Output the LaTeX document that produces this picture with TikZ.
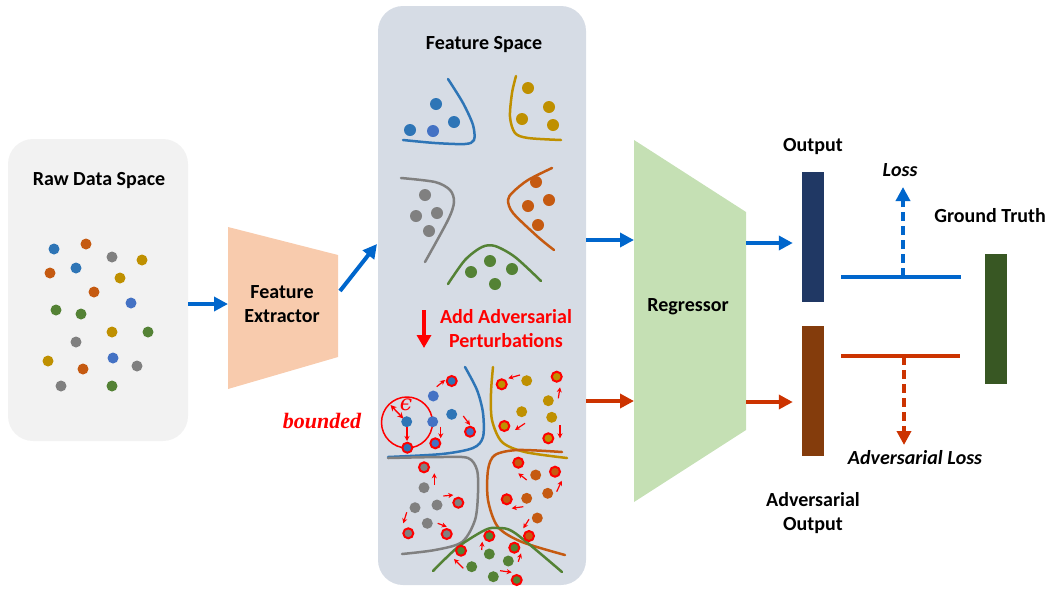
\documentclass[tikz,border=0pt]{standalone}
\usepackage{fontspec}
\setmainfont{Carlito}
\newfontfamily\timesfont{Liberation Serif}
\newfontfamily\epsfont{DejaVu Serif}
\usetikzlibrary{arrows.meta}
\definecolor{rawbg}{HTML}{F2F2F2}
\definecolor{fsbg}{HTML}{D6DCE5}
\definecolor{febg}{HTML}{F8CBAD}
\definecolor{regbg}{HTML}{C5E0B4}
\definecolor{arrblue}{HTML}{0066CC}
\definecolor{arrred}{HTML}{CC3300}
\definecolor{cblue}{HTML}{2E75B6}
\definecolor{cbluel}{HTML}{4472C4}
\definecolor{corange}{HTML}{C55A11}
\definecolor{cgray}{HTML}{808080}
\definecolor{cyellow}{HTML}{BF9000}
\definecolor{cgreen}{HTML}{548235}
\definecolor{outblue}{HTML}{203864}
\definecolor{outbrown}{HTML}{843C0C}
\definecolor{gtgreen}{HTML}{385723}
\begin{document}
\begin{tikzpicture}[x=1pt, y=-1pt,
    every node/.style={font=\bfseries\fontsize{20}{24}\selectfont, align=center, inner sep=0pt},
    bar/.style={minimum width=22pt, minimum height=130pt},
    barrow/.style={arrblue, line width=4pt, -{Triangle[length=14pt,width=14pt]}},
    rarrow/.style={arrred, line width=4pt, -{Triangle[length=14pt,width=14pt]}},
    parrow/.style={red, line width=1.2pt, -{Stealth[length=5pt,width=5pt]}},
    curve/.style={line width=2.5pt, line cap=round}]
    \useasboundingbox (0,0) rectangle (1056,590);
    % Panels
    \node[fill=rawbg, rounded corners=25pt, minimum width=180pt, minimum height=302pt] (raw) at (98,290) {};
    \node[fill=fsbg, rounded corners=25pt, minimum width=208pt, minimum height=579pt] (fs) at (482,295.5) {};
    \node (rawlbl) at (99,181) {Raw Data Space};
    \node (fslbl) at (484,45) {Feature Space};
    % Raw data
    \foreach \c/\x/\y in {cblue/54/249, corange/86/244, cgray/112/257, cyellow/142/260,
        corange/50/273, cblue/76/268, cyellow/120/278, corange/94/292, cbluel/131/303,
        cgreen/56/310, cgreen/81/314, cyellow/112/332, cgreen/148/332, cgray/76/342,
        cyellow/48/361, cbluel/113/358, corange/83/369, cgray/137/366, cgray/61/386, cgreen/112/386}
        \fill[\c] (\x,\y) circle (5.5);
    % Extractor
    \fill[febg] (228,227) -- (338,255) -- (338,357) -- (228,389) -- cycle;
    \node (fe) at (282,304) {Feature\\Extractor};
    \coordinate (fe-in) at (228,304);
    \coordinate (fe-out) at (340,291);
    \coordinate (fs-in) at (377,244);
    \draw[barrow] (raw.east |- fe-in) -- (fe-in);
    \draw[barrow] (fe-out) -- (fs-in);
    % Clean clusters
    \draw[curve, cblue] plot[smooth] coordinates {(448,79) (463,103) (473,125) (474,140) (465,144) (435,143) (403,140)};
    \draw[curve, cyellow] plot[smooth] coordinates {(516,76) (512,93) (510,117) (515,133) (528,138) (561,140)};
    \draw[curve, cgray] plot[smooth] coordinates {(401,178) (435,182) (450,190) (454,202) (448,220) (425,262)};
    \draw[curve, corange] plot[smooth] coordinates {(552,168) (528,180) (513,192) (508,200) (513,213) (538,237) (554,250)};
    \draw[curve, cgreen] plot[smooth] coordinates {(448,284) (465,260) (482,247) (495,246) (515,257) (541,281)};
    \foreach \c/\x/\y in {cblue/436/104, cblue/410/130, cbluel/433/131, cblue/454/122,
        cyellow/528/88, cyellow/549/107, cyellow/522/119, cyellow/553/125,
        cgray/425/195, cgray/416/216, cgray/437/213, cgray/429/231,
        corange/536/182, corange/549/200, corange/528/206, corange/538/225,
        cgreen/490/261, cgreen/471/272, cgreen/512/269, cgreen/495/284}
        \fill[\c] (\x,\y) circle (6);
    % Perturbation
    \coordinate (pt-a) at (424,310);
    \coordinate (pt-b) at (424,348);
    \draw[red, line width=4pt, -{Triangle[length=13pt,width=14pt]}] (pt-a) -- (pt-b);
    \node[red] (addlbl) at (506,329) {Add Adversarial\\Perturbations};
    \node[red, font=\timesfont\bfseries\itshape\fontsize{22}{24}\selectfont] (bnd) at (322,421) {bounded};
    % Perturbed clusters
    \draw[curve, cblue] plot[smooth] coordinates {(465,367) (477,390) (483,413) (483,437) (473,448) (442,454) (388,457)};
    \draw[curve, cyellow] plot[smooth] coordinates {(493,367) (491,393) (492,420) (502,442) (525,452) (567,458)};
    \draw[curve, cgray] plot[smooth] coordinates {(388,458) (442,457) (468,458) (477,470) (478,493) (475,520) (462,542) (435,550) (402,554)};
    \draw[curve, corange] plot[smooth] coordinates {(562,452) (518,450) (495,455) (488,470) (488,500) (498,527) (522,542) (565,555)};
    \draw[curve, cgreen] plot[smooth] coordinates {(433,571) (458,547) (485,530) (498,528) (515,533) (562,572)};
    \draw[red, line width=1.5pt] (407,422.5) circle (25.5);
    \node[red, font=\epsfont\itshape\fontsize{22}{22}\selectfont] (eps) at (406,405) {ϵ};
    \foreach \c/\x/\y in {cblue/406.7/421.7, cbluel/433.3/396, cbluel/432.7/421.7, cblue/451.7/414.3,
        cyellow/526.7/380.7, cyellow/548.3/400.7, cyellow/521.7/411.7, cyellow/551.7/417.3,
        corange/535.7/475, corange/547.7/493.3, corange/526.7/498.3, corange/537.3/518,
        cgray/424/487.7, cgray/415/507.7, cgray/437/505, cgray/427.3/523.3,
        cgreen/489.3/554, cgreen/508.3/561, cgreen/471.7/566.7, cgreen/493.3/576.7}
        \fill[\c] (\x,\y) circle (5.5);
    \foreach \c/\x/\y in {cblue/407.3/447.7, cblue/451.7/381, cbluel/435.3/443.3, cbluel/470/431.7,
        cyellow/501.7/384.3, cyellow/556.7/376.7, cyellow/504.3/426, cyellow/548.3/438.3,
        corange/518.3/462.7, corange/555/471.7, corange/506.7/499.3, corange/529/536,
        cgray/424/467.3, cgray/458.3/502.7, cgray/408.3/533.3, cgray/446.7/534,
        cgreen/489.3/536, cgreen/461/550.7, cgreen/514.3/547.7, cgreen/516.7/580}
        \filldraw[fill=\c, draw=red, line width=2pt] (\x,\y) circle (5);
    \draw[red, line width=1.4pt, {Stealth[length=6pt,width=6pt]}-{Stealth[length=6pt,width=6pt]}] (390.5,405) -- (403.3,418.5);
    \foreach \xa/\ya/\xb/\yb in {407/427/407/441, 436.7/386.7/445/380, 440.7/426.7/440.7/438.3, 463.3/416/470/425,
        520/375/508.3/378.3, 558.3/398.3/560/387.3, 525/423.3/515/430, 560/425/560/438.3,
        526.7/480/518.3/473.3, 556.7/491.7/561.7/480.7, 523.3/506.7/511.7/508.3, 529/519.3/523.3/528.3,
        434.3/485/434.3/473.3, 443.3/496/453.3/495, 406.7/512.3/403.3/523.3, 437.7/523.3/446.7/526.7,
        481.7/550/482.3/541.7, 463.3/568.3/454/559, 518.3/561.7/521/553.3, 500/570.7/511.7/572.3}
        \draw[parrow] (\xa,\ya) -- (\xb,\yb);
    % Regressor
    \fill[regbg] (634,140) -- (746,212) -- (746,430) -- (634,502) -- cycle;
    \node (reg) at (688,307) {Regressor};
    \coordinate (reg-in1) at (634,240);
    \coordinate (reg-in2) at (634,401);
    \coordinate (reg-out1) at (746,243);
    \coordinate (reg-out2) at (746,402);
    \draw[barrow] (fs.east |- reg-in1) -- (reg-in1);
    \draw[rarrow] (fs.east |- reg-in2) -- (reg-in2);
    % Outputs
    \node[bar, fill=outblue] (out) at (813,236.5) {};
    \node[bar, fill=outbrown] (advout) at (813,391) {};
    \node[bar, fill=gtgreen] (gt) at (996,319) {};
    \node (outlbl) at (813,147) {Output};
    \node (advlbl) at (813,513) {Adversarial\\Output};
    \node (gtlbl) at (990,216) {Ground Truth};
    \draw[barrow, shorten >=9pt] (reg-out1) -- (reg-out1 -| out.west);
    \draw[rarrow, shorten >=9pt] (reg-out2) -- (reg-out2 -| advout.west);
    % Losses
    \coordinate (l1a) at (841,277);
    \coordinate (l1b) at (961,277);
    \coordinate (l1m) at (903,277);
    \coordinate (l2a) at (841,356);
    \coordinate (l2b) at (960,356);
    \coordinate (l2m) at (904,356);
    \node[font=\bfseries\itshape\fontsize{20}{24}\selectfont] (loss) at (900,170) {Loss};
    \node[font=\bfseries\itshape\fontsize{20}{24}\selectfont] (advloss) at (915,458) {Adversarial Loss};
    \draw[arrblue, line width=4pt] (l1a) -- (l1b);
    \draw[arrred, line width=4pt] (l2a) -- (l2b);
    \draw[arrblue, line width=4pt, dash pattern=on 9pt off 5pt, -{Triangle[length=14pt,width=14pt]}] (l1m) -- (l1m |- 0,187);
    \draw[arrred, line width=4pt, dash pattern=on 9pt off 5pt, -{Triangle[length=14pt,width=14pt]}] (l2m) -- (l2m |- 0,445);
\end{tikzpicture}
\end{document}
